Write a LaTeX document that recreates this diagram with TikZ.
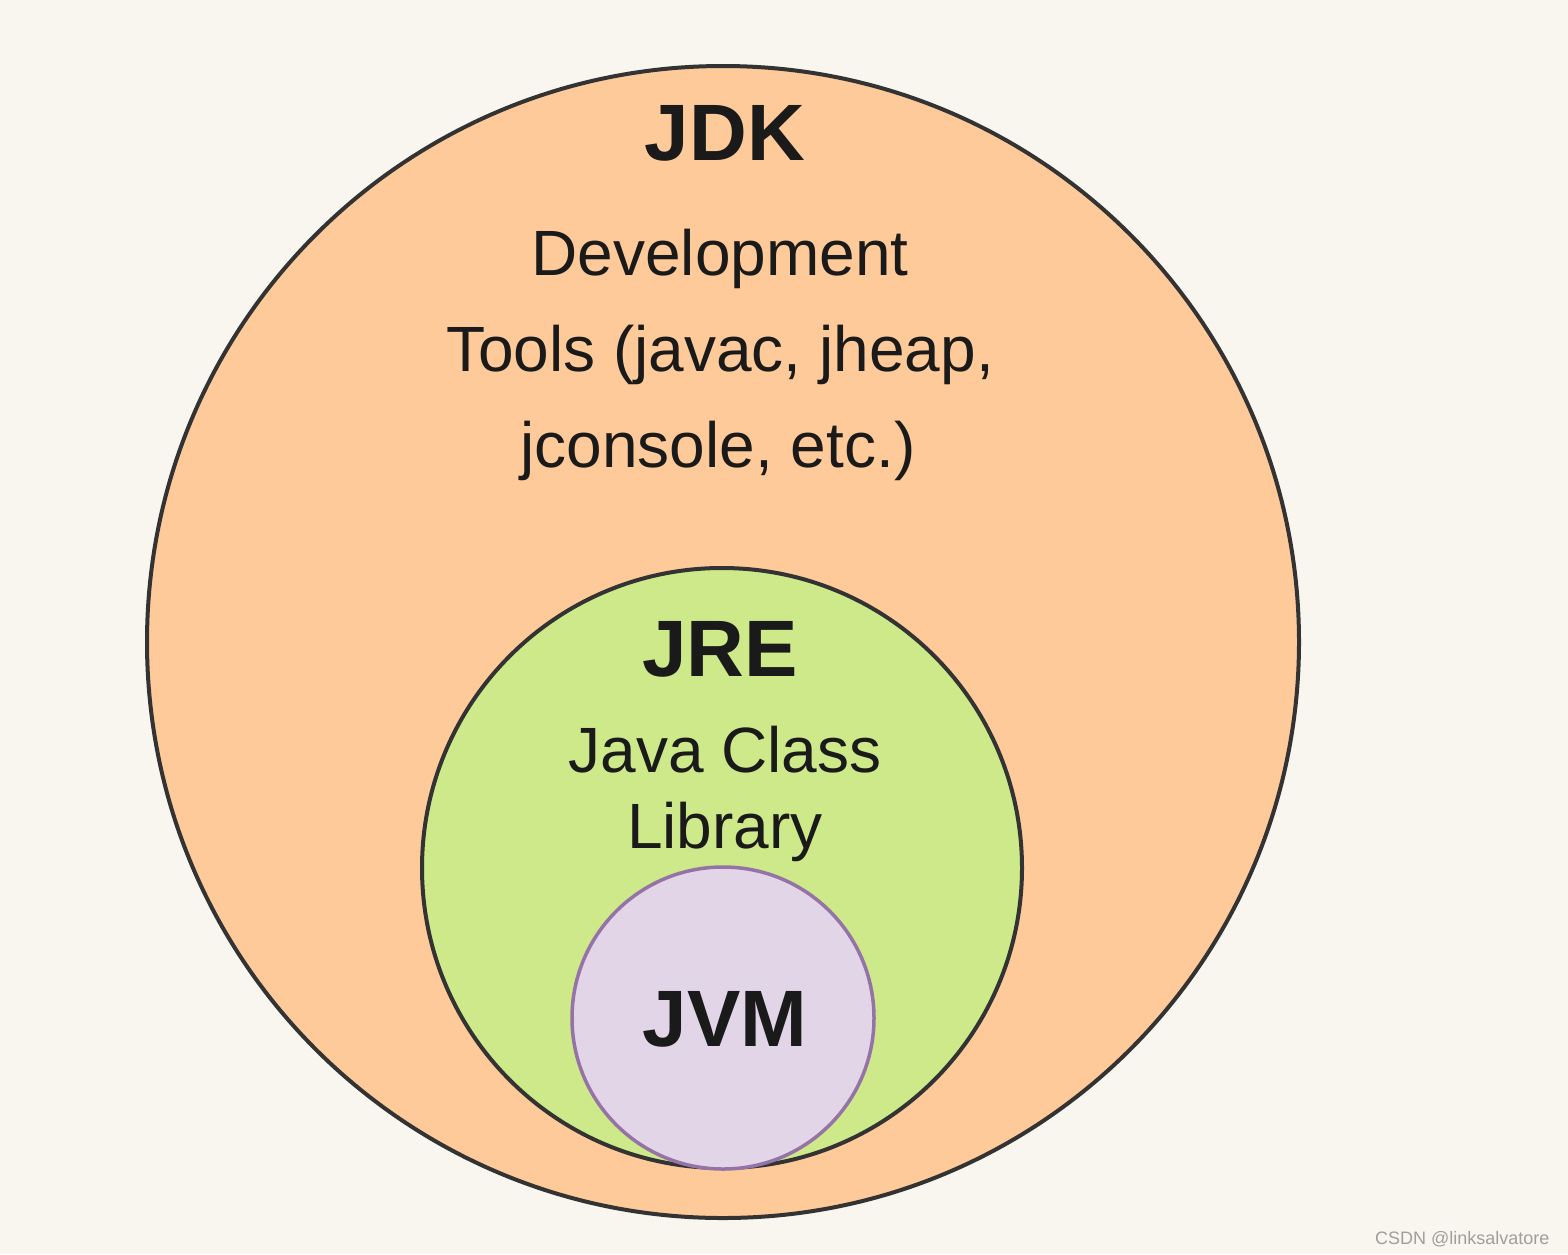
\documentclass[tikz,border=0pt]{standalone}
\usepackage{fontspec}
\setmainfont{Liberation Sans}
\definecolor{bgc}{HTML}{F8F6EE}
\definecolor{jdkfill}{HTML}{FFCA99}
\definecolor{jrefill}{HTML}{CDE98A}
\definecolor{jvmfill}{HTML}{E1D5E7}
\definecolor{jvmline}{HTML}{9673A6}
\definecolor{darkline}{HTML}{333333}
\definecolor{txt}{HTML}{1A1A1A}
\begin{document}
\begin{tikzpicture}[x=1pt,y=-1pt,
  ring/.style={circle,draw=darkline,line width=4pt,inner sep=0pt},
  title/.style={anchor=base,text=txt,font=\fontsize{80}{80}\selectfont\bfseries},
  body/.style={anchor=base,text=txt,font=\fontsize{64}{64}\selectfont}]
\useasboundingbox[fill=bgc] (0,0) rectangle (1568,1254);
\node[ring,fill=jdkfill,minimum size=1152pt] (jdk) at (723,642) {};
\node[ring,fill=jrefill,minimum size=600pt] (jre) at (722,868) {};
\node[ring,draw=jvmline,fill=jvmfill,minimum size=302pt,line width=3.5pt] (jvm) at (723,1018) {};
\node[title] (jdkt) at (725,160) {JDK};
\node[body] (d1) at (720,275) {Development};
\node[body] (d2) at (720,371) {Tools (javac, jheap,};
\node[body] (d3) at (718,467) {jconsole, etc.)};
\node[title] (jret) at (720,676) {JRE};
\node[body] (j1) at (725,772) {Java Class};
\node[body] (j2) at (725,848) {Library};
\node[title] (jvmt) at (725,1046) {JVM};
\node[anchor=base east,text=black!38,font=\fontsize{18}{18}\selectfont] (wm) at (1553,1244) {CSDN @linksalvatore};
\end{tikzpicture}
\end{document}
